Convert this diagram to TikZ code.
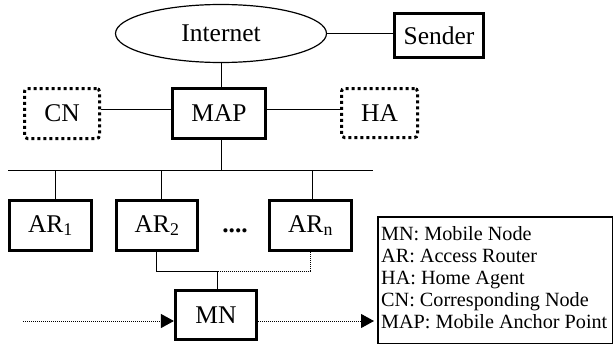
\documentclass[tikz,border=0pt]{standalone}
\usepackage{fontspec}
\setmainfont{Liberation Serif}
\usetikzlibrary{arrows.meta,shapes.geometric}
\begin{document}
\begin{tikzpicture}[x=1pt,y=-1pt,
  nodefont/.style={font=\fontsize{25.5}{28}\selectfont},
  box/.style={draw, line width=3.2pt, rectangle, inner sep=0pt, nodefont},
  dotbox/.style={draw, line width=3pt, dash pattern=on 3pt off 3pt, rounded corners=3pt, inner sep=0pt, nodefont},
  link/.style={line width=1pt},
  dotlink/.style={line width=1pt, dash pattern=on 1pt off 1pt},
  arr/.style={dotlink, -{Triangle[length=13pt,width=14pt]}},
  legtext/.style={anchor=base west, inner sep=0pt, font=\fontsize{20.2}{22}\selectfont}]
\useasboundingbox (0,0) rectangle (615,345);

\node[ellipse, draw, line width=1.2pt, minimum width=211pt, minimum height=58pt, inner sep=0pt, nodefont] (inet) at (221,33.5) {Internet};
\node[box, minimum width=89pt, minimum height=44pt] (sender) at (439,35.5) {Sender};
\node[box, minimum width=93pt, minimum height=50pt] (map) at (219,113.5) {MAP};
\node[dotbox, minimum width=75pt, minimum height=50pt] (cn) at (62,113.5) {CN};
\node[dotbox, minimum width=76pt, minimum height=49pt] (ha) at (379.5,113) {HA};

\node[box, minimum width=82pt, minimum height=50pt] (ar1) at (50.5,225.5) {AR\textsubscript{1}};
\node[box, minimum width=81pt, minimum height=50pt] (ar2) at (157,225.5) {AR\textsubscript{2}};
\node[box, minimum width=82pt, minimum height=50pt] (arn) at (310.5,225.5) {AR\textsubscript{n}};
\node[anchor=base, inner sep=0pt, font=\fontsize{25.5}{28}\selectfont\bfseries] (dots) at (235,232) {....};

\node[box, minimum width=81pt, minimum height=49pt] (mn) at (216,315) {MN};

\node[draw, line width=1.5pt, minimum width=234.5pt, minimum height=126.5pt, inner sep=0pt] (legend) at (495,280) {};
\node[legtext] (l1) at (381,240) {MN: Mobile Node};
\node[legtext] (l2) at (381,262) {AR: Access Router};
\node[legtext] (l3) at (381,284) {HA: Home Agent};
\node[legtext] (l4) at (381,306) {CN: Corresponding Node};
\node[legtext] (l5) at (381,328) {MAP: Mobile Anchor Point};

% connectors
\coordinate (busL) at (8,170);
\coordinate (busR) at (373,170);
\draw[link] (busL) -- (busR);
\draw[link] (inet.east) -- (sender.west |- inet.east);
\draw[link] (inet.south) -- (inet.south |- map.north);
\draw[link] (inet.south |- map.south) -- (inet.south |- busL);
\draw[link] ([yshift=4.5pt]cn.east) -- ([yshift=4.5pt]cn.east -| map.west);
\draw[link] ([yshift=4.5pt]map.east) -- ([yshift=4.5pt]map.east -| ha.west);
\draw[link] ([xshift=4.5pt]ar1.north) -- ([xshift=4.5pt]ar1.north |- busL);
\draw[link] ([xshift=4pt]ar2.north) -- ([xshift=4pt]ar2.north |- busL);
\draw[link] ([xshift=1.5pt]arn.north) -- ([xshift=1.5pt]arn.north |- busL);

\coordinate (j) at (217,271);
\draw[link] ([xshift=-1pt]ar2.south) |- (j) -- (j |- mn.north);
\draw[dotlink] (arn.south) |- (j);

\coordinate (src) at (23,321);
\draw[arr] (src) -- (mn.west |- src);
\draw[arr, shorten >=3pt] (mn.east |- src) -- (legend.west |- src);
\end{tikzpicture}
\end{document}
